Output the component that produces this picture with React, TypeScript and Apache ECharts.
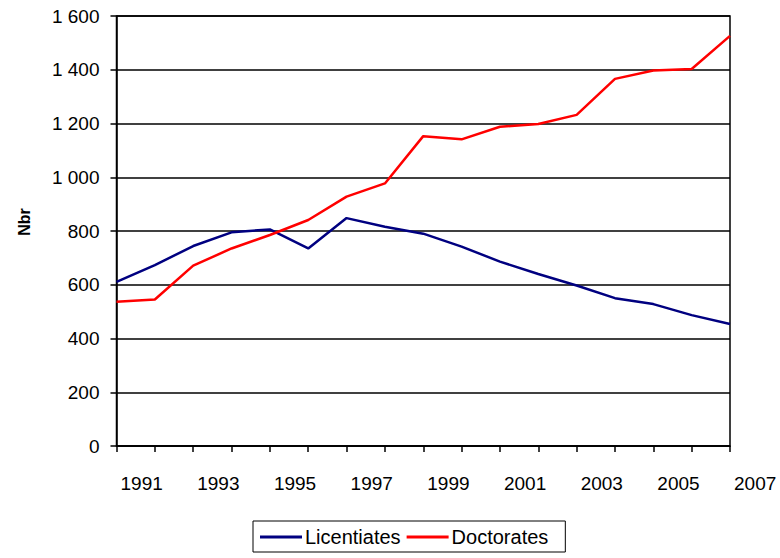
import React, { useEffect, useRef } from "react";
import * as echarts from "echarts";

const years = ["1991","1992","1993","1994","1995","1996","1997","1998","1999","2000","2001","2002","2003","2004","2005","2006","2007"];
const licentiates = [611, 673, 744, 795, 806, 735, 848, 816, 790, 742, 686, 640, 597, 550, 528, 487, 454];
const doctorates = [537, 545, 671, 735, 785, 841, 928, 977, 1153, 1141, 1188, 1198, 1232, 1366, 1397, 1403, 1526];
const yTicks = [0, 200, 400, 600, 800, 1000, 1200, 1400, 1600];

const FONT = "'Liberation Sans', Arial, sans-serif";

const fmt = (v: number) => String(v).replace(/\B(?=(\d{3})+(?!\d))/g, " ");

export default function App() {
  const ref = useRef<HTMLDivElement>(null);
  useEffect(() => {
    if (!ref.current) return;
    const chart = echarts.init(ref.current, undefined, { renderer: "svg" });
    chart.setOption({
      animation: false,
      backgroundColor: "#ffffff",
      textStyle: { fontFamily: FONT },
      grid: {
        left: 116.5,
        right: 50,
        top: 16,
        bottom: 112,
        show: true,
        borderColor: "#000",
        borderWidth: 1.5,
        containLabel: false,
      },
      xAxis: {
        type: "category",
        data: years,
        boundaryGap: false,
        axisLine: { lineStyle: { color: "#000", width: 1.5 } },
        axisTick: { show: true, interval: 0, length: 6, lineStyle: { color: "#000", width: 1.5 } },
        axisLabel: {
          interval: 1,
          align: "left",
          padding: [0, 0, 0, 4],
          margin: 28,
          color: "#000",
          fontSize: 19,
          fontFamily: FONT,
        },
        splitLine: { show: false },
      },
      yAxis: {
        type: "value",
        min: yTicks[0],
        max: yTicks[yTicks.length - 1],
        interval: 200,
        axisLine: { show: true, lineStyle: { color: "#000", width: 1.5 } },
        axisTick: { show: true, length: 6, lineStyle: { color: "#000", width: 1.5 } },
        axisLabel: {
          margin: 17,
          color: "#000",
          fontSize: 19,
          fontFamily: FONT,
          formatter: (v: number) => fmt(v),
        },
        splitLine: { show: true, lineStyle: { color: "#000", width: 1.5 } },
      },
      legend: {
        left: 253,
        top: 521,
        orient: "horizontal",
        borderColor: "#000",
        borderWidth: 1,
        padding: [6, 17, 5, 7],
        itemGap: 6,
        itemWidth: 42,
        itemHeight: 3,
        icon: "rect",
        textStyle: { fontSize: 20, color: "#000", fontFamily: FONT, padding: [0, 0, 0, -2] },
        data: ["Licentiates", "Doctorates"],
      },
      graphic: [
        {
          type: "text",
          x: 24,
          y: 222,
          rotation: Math.PI / 2,
          style: {
            text: "Nbr",
            fontSize: 16,
            fontWeight: "bold",
            fontFamily: FONT,
            fill: "#000",
            align: "center",
            verticalAlign: "middle",
          },
        },
      ],
      series: [
        {
          name: "Licentiates",
          type: "line",
          data: licentiates,
          showSymbol: false,
          symbol: "none",
          color: "#000080",
          lineStyle: { color: "#000080", width: 2.5 },
        },
        {
          name: "Doctorates",
          type: "line",
          data: doctorates,
          showSymbol: false,
          symbol: "none",
          color: "#ff0000",
          lineStyle: { color: "#ff0000", width: 2.5 },
        },
      ],
    });
    return () => chart.dispose();
  }, []);
  return <div ref={ref} style={{ position: "fixed", left: 0, top: 0, width: 780, height: 558 }} />;
}
